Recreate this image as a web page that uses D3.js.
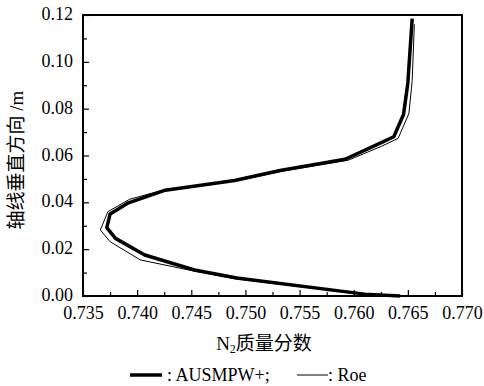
<!DOCTYPE html>
<html>
<head>
<meta charset="utf-8">
<script src="https://cdn.jsdelivr.net/npm/d3@7"></script>
<style>
  body { margin: 0; background: #fff; }
</style>
</head>
<body>
<svg id="chart" width="484" height="386"></svg>
<script>
// N2 mass fraction (x) vs vertical position on axis (y, m)
const ausmpwX = [0.7643, 0.7610, 0.7492, 0.7453, 0.7407, 0.7380, 0.7372, 0.7375, 0.7392, 0.7426, 0.7490, 0.7532, 0.7592, 0.7621, 0.7637, 0.7646, 0.7650, 0.7654]
const ausmpwY = [0.0000, 0.0008, 0.0077, 0.0111, 0.0175, 0.0246, 0.0292, 0.0350, 0.0398, 0.0452, 0.0493, 0.0536, 0.0584, 0.0645, 0.0680, 0.0775, 0.0910, 0.1185]
const roeX = [0.7643, 0.7612, 0.7490, 0.7453, 0.7403, 0.7375, 0.7366, 0.7373, 0.7393, 0.7427, 0.7492, 0.7535, 0.7595, 0.7625, 0.7641, 0.7651, 0.7654, 0.7656]
const roeY = [0.0000, 0.0006, 0.0074, 0.0106, 0.0154, 0.0232, 0.0282, 0.0360, 0.0413, 0.0456, 0.0492, 0.0534, 0.0580, 0.0638, 0.0673, 0.0780, 0.0920, 0.1160]

const xTicks = [0.735, 0.740, 0.745, 0.750, 0.755, 0.760, 0.765, 0.770]
const xMinor = [0.7375, 0.7425, 0.7475, 0.7525, 0.7575, 0.7625, 0.7675]
const yTicks = [0.00, 0.02, 0.04, 0.06, 0.08, 0.10, 0.12]
const yMinor = [0.01, 0.03, 0.05, 0.07, 0.09, 0.11]

const SERIF = "'Liberation Serif', 'Times New Roman', Times, 'DejaVu Serif', serif"
const CJK = "'Noto Sans CJK SC', 'Noto Sans CJK JP', sans-serif"

const plot = { left: 83, right: 462, top: 15, bottom: 296 }

const svg = d3.select("#chart")
const x = d3.scaleLinear().domain([0.735, 0.770]).range([plot.left, plot.right])
const y = d3.scaleLinear().domain([0, 0.12]).range([plot.bottom, plot.top])

// axes, ticks pointing inward
const xAxis = svg.append("g").attr("transform", `translate(0,${plot.bottom})`)
    .call(d3.axisBottom(x).tickValues(xTicks).tickFormat(d3.format(".3f")).tickSize(-6).tickPadding(10))
xAxis.append("g").call(d3.axisBottom(x).tickValues(xMinor).tickFormat("").tickSize(-4))

const yAxis = svg.append("g").attr("transform", `translate(${plot.left},0)`)
    .call(d3.axisLeft(y).tickValues(yTicks).tickFormat(d3.format(".2f")).tickSize(-6).tickPadding(10))
yAxis.append("g").call(d3.axisLeft(y).tickValues(yMinor).tickFormat("").tickSize(-4))

svg.selectAll(".domain").remove()
svg.selectAll(".tick line").attr("stroke", "#000").attr("stroke-width", 1.2)
svg.selectAll(".tick text")
    .style("font-family", SERIF)
    .style("font-size", "18px")
    .attr("fill", "#000")
yAxis.selectAll(".tick text").attr("dy", "0.25em")

svg.append("rect")
    .attr("x", plot.left).attr("y", plot.top)
    .attr("width", plot.right - plot.left).attr("height", plot.bottom - plot.top)
    .attr("fill", "none").attr("stroke", "#000").attr("stroke-width", 2)

const line = d3.line().x((d) => x(d[0])).y((d) => y(d[1]))

svg.append("path")
    .datum(roeX.map((v, i) => [v, roeY[i]]))
    .attr("fill", "none").attr("stroke", "#000").attr("stroke-width", 1)
    .attr("d", line)

svg.append("path")
    .datum(ausmpwX.map((v, i) => [v, ausmpwY[i]]))
    .attr("fill", "none").attr("stroke", "#000").attr("stroke-width", 3.5)
    .attr("stroke-linejoin", "round")
    .attr("d", line)

// axis titles
const xt = svg.append("text").attr("x", 264).attr("y", 350)
    .attr("text-anchor", "middle").style("font-size", "19px")
xt.append("tspan").style("font-family", SERIF).text("N")
xt.append("tspan").style("font-family", SERIF).style("font-size", "12px").attr("dy", 3).text("2")
xt.append("tspan").attr("dy", -3).style("font-family", CJK).text("质量分数")

const yt = svg.append("text")
    .attr("transform", "translate(23,160) rotate(-90)")
    .attr("text-anchor", "middle").style("font-size", "19px")
yt.append("tspan").style("font-family", CJK).text("轴线垂直方向")
yt.append("tspan").style("font-family", SERIF).text(" /m")

// legend
const legY = 375
svg.append("line").attr("x1", 130).attr("x2", 162).attr("y1", legY).attr("y2", legY)
    .attr("stroke", "#000").attr("stroke-width", 3.5)
svg.append("text").attr("x", 167).attr("y", legY + 6)
    .style("font-family", SERIF).style("font-size", "18px").text(": AUSMPW+;")
svg.append("line").attr("x1", 297).attr("x2", 328).attr("y1", legY).attr("y2", legY)
    .attr("stroke", "#000").attr("stroke-width", 1)
svg.append("text").attr("x", 328).attr("y", legY + 6)
    .style("font-family", SERIF).style("font-size", "18px").text(": Roe")
</script>
</body>
</html>
